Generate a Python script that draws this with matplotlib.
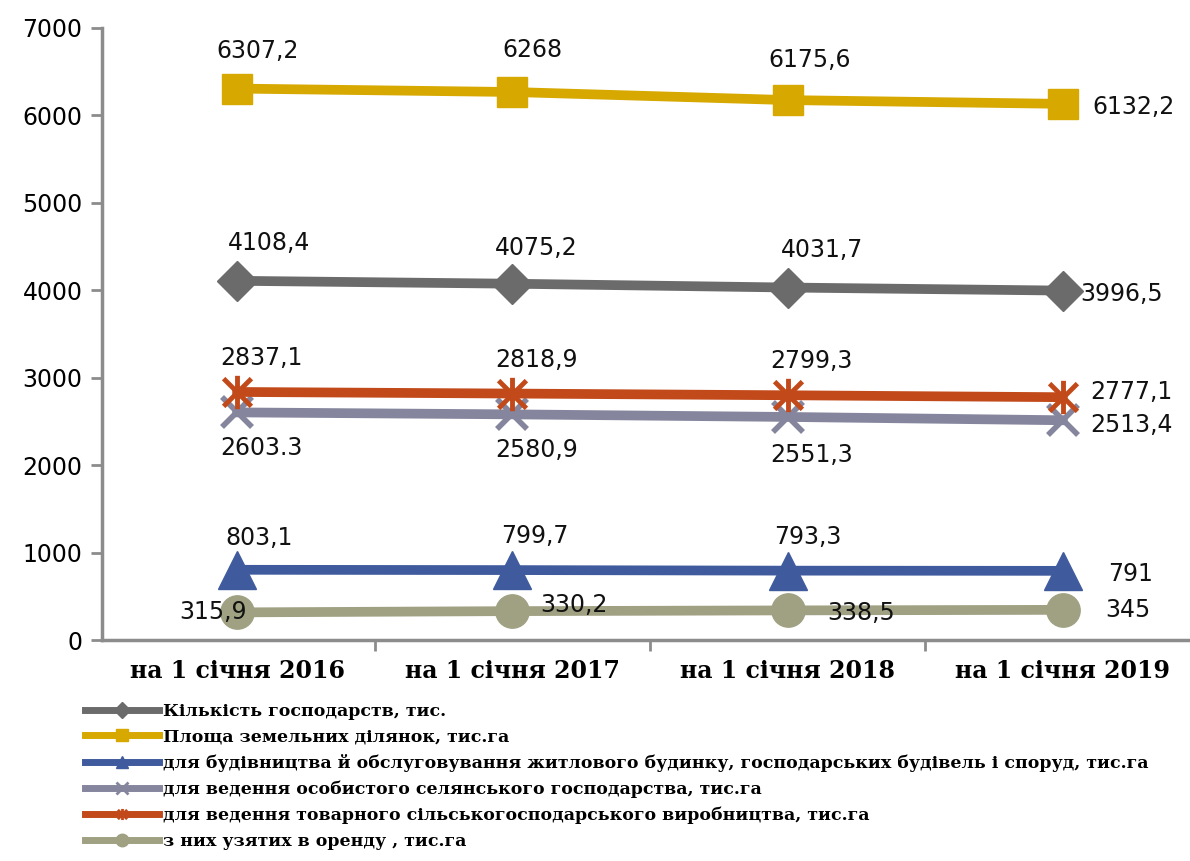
import matplotlib
matplotlib.use('Agg')
import matplotlib.pyplot as plt
from matplotlib.lines import Line2D
from matplotlib.path import Path

years = ['на 1 січня 2016', 'на 1 січня 2017', 'на 1 січня 2018', 'на 1 січня 2019']

households = [4108.4, 4075.2, 4031.7, 3996.5]
area = [6307.2, 6268, 6175.6, 6132.2]
building = [803.1, 799.7, 793.3, 791]
personal = [2603.3, 2580.9, 2551.3, 2513.4]
commercial = [2837.1, 2818.9, 2799.3, 2777.1]
rented = [315.9, 330.2, 338.5, 345]

households_lbl = ['4108,4', '4075,2', '4031,7', '3996,5']
area_lbl = ['6307,2', '6268', '6175,6', '6132,2']
building_lbl = ['803,1', '799,7', '793,3', '791']
personal_lbl = ['2603.3', '2580,9', '2551,3', '2513,4']
commercial_lbl = ['2837,1', '2818,9', '2799,3', '2777,1']
rented_lbl = ['315,9', '330,2', '338,5', '345']

names = ['Кількість господарств, тис.',
         'Площа земельних ділянок, тис.га',
         'для будівництва й обслуговування житлового будинку, господарських будівель і споруд, тис.га',
         'для ведення особистого селянського господарства, тис.га',
         'для ведення товарного сільськогосподарського виробництва, тис.га',
         'з них узятих в оренду , тис.га']

c_hh = '#6b6b6b'
c_area = '#d6a800'
c_build = '#3f5b9e'
c_pers = '#85859e'
c_comm = '#c24a1a'
c_rent = '#a0a082'

# excel-like star: an x with a vertical stroke
star = Path([(-1, -1), (1, 1), (-1, 1), (1, -1), (0, -1.2), (0, 1.2)],
            [Path.MOVETO, Path.LINETO, Path.MOVETO, Path.LINETO, Path.MOVETO, Path.LINETO])

fig = plt.figure(figsize=(11.9, 8.61), dpi=100)
ax = fig.add_axes([102 / 1190, 1 - 640 / 861, 1086 / 1190, 612 / 861])

x = range(len(years))
lw = 7

ax.plot(x, rented, color=c_rent, lw=lw, marker='o', ms=24, zorder=3)
ax.plot(x, building, color=c_build, lw=lw, marker='^', ms=28, zorder=3)
ax.plot(x, personal, color=c_pers, lw=lw, marker='x', ms=22, mew=4, zorder=3)
ax.plot(x, commercial, color=c_comm, lw=lw, marker=star, ms=24, mew=3.5, zorder=4)
ax.plot(x, households, color=c_hh, lw=lw, marker='D', ms=20, zorder=3)
ax.plot(x, area, color=c_area, lw=lw, marker='s', ms=22, zorder=3)

lab_font = dict(fontsize=17, family='DejaVu Sans', color='#111111')

def put(vals, lbls, offs, has):
    for i in range(len(vals)):
        ax.annotate(lbls[i], (i, vals[i]), xytext=offs[i], textcoords='offset pixels',
                    ha=has[i], va='center', **lab_font)

put(area, area_lbl, [(20, 38), (20, 42), (22, 40), (30, -3)], ['center'] * 3 + ['left'])
put(households, households_lbl, [(32, 38), (24, 36), (34, 38), (17, -3)], ['center'] * 3 + ['left'])
put(commercial, commercial_lbl, [(24, 34), (24, 34), (24, 34), (27, 5)], ['center'] * 3 + ['left'])
put(personal, personal_lbl, [(24, -36), (24, -36), (24, -38), (27, -5)], ['center'] * 3 + ['left'])
put(building, building_lbl, [(22, 32), (22, 34), (20, 34), (45, -3)], ['center'] * 3 + ['left'])
put(rented, rented_lbl, [(-24, 0), (28, 6), (40, -3), (42, 0)], ['center', 'left', 'left', 'left'])

ax.set_xlim(-0.491, 3.455)
ax.set_ylim(0, 7000)
ax.set_yticks(range(0, 7001, 1000))
ax.set_xticks(list(x))
ax.set_xticklabels(years, family='DejaVu Serif', fontweight='bold', fontsize=17)
ax.set_xticks([0.5, 1.5, 2.5], minor=True)
ax.tick_params(axis='x', which='major', length=0, pad=14)
ax.tick_params(axis='x', which='minor', length=8, width=2, color='#8c8c8c', direction='out')
ax.tick_params(axis='y', length=8, width=2, color='#8c8c8c', labelsize=17, pad=6)
for t in ax.get_yticklabels():
    t.set_family('DejaVu Sans')

for s in ['top', 'right']:
    ax.spines[s].set_visible(False)
for s in ['left', 'bottom']:
    ax.spines[s].set_color('#8c8c8c')
    ax.spines[s].set_linewidth(2.5)

handles = [Line2D([], [], color=c_hh, lw=5, marker='D', ms=8),
           Line2D([], [], color=c_area, lw=5, marker='s', ms=9),
           Line2D([], [], color=c_build, lw=5, marker='^', ms=9),
           Line2D([], [], color=c_pers, lw=5, marker='x', ms=8, mew=2),
           Line2D([], [], color=c_comm, lw=5, marker=star, ms=8, mew=2),
           Line2D([], [], color=c_rent, lw=5, marker='o', ms=9)]
fig.legend(handles, names, loc='upper left', bbox_to_anchor=(0.064, 0.194), frameon=False,
           prop={'family': 'DejaVu Serif', 'weight': 'bold', 'size': 12.5},
           handlelength=4.3, handletextpad=0.2, labelspacing=0.5, borderpad=0)

fig.savefig('out.png', dpi=100)
